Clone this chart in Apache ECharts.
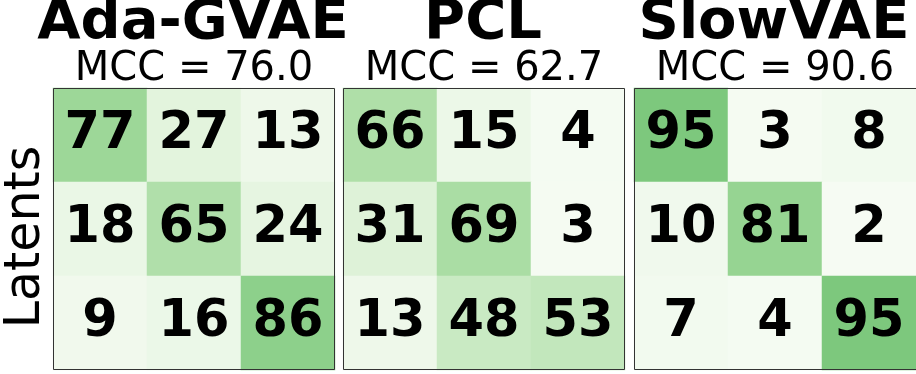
<!DOCTYPE html>
<html>
<head>
<meta charset="utf-8">
<script src="https://cdn.jsdelivr.net/npm/echarts@6/dist/echarts.min.js"></script>
<style>
  html, body { margin: 0; padding: 0; background: #fff; }
  #chart { width: 916px; height: 374px; }
</style>
</head>
<body>
<div id="chart"></div>
<script>
// ---- data ----
const methods = ['Ada-GVAE', 'PCL', 'SlowVAE'];
const mccScores = ['76.0', '62.7', '90.6'];
const axisCats = ['0', '1', '2'];
const adaGvae = [
  [77, 27, 13],
  [18, 65, 24],
  [9, 16, 86]
];
const pcl = [
  [66, 15, 4],
  [31, 69, 3],
  [13, 48, 53]
];
const slowVae = [
  [95, 3, 8],
  [10, 81, 2],
  [7, 4, 95]
];
const matrices = [adaGvae, pcl, slowVae];
const yLabel = 'Latents';

// ---- layout ----
const gridLefts = [53, 343, 634];
const gridTop = 88;
const gridSize = 282;
const FONT = '"DejaVu Sans", sans-serif';

const chart = echarts.init(document.getElementById('chart'), null, { renderer: 'canvas' });

const grids = [], xAxes = [], yAxes = [], series = [], graphics = [];
matrices.forEach((m, i) => {
  grids.push({ left: gridLefts[i], top: gridTop, width: gridSize, height: gridSize, containLabel: false });
  xAxes.push({ type: 'category', gridIndex: i, data: axisCats, show: false, splitArea: { show: false } });
  yAxes.push({ type: 'category', gridIndex: i, data: axisCats, show: false, inverse: true });
  const data = [];
  m.forEach((row, r) => row.forEach((v, c) => data.push([c, r, v])));
  series.push({
    type: 'heatmap',
    xAxisIndex: i,
    yAxisIndex: i,
    data: data,
    itemStyle: { borderWidth: 0 },
    label: {
      show: true,
      color: '#000',
      fontFamily: FONT,
      fontWeight: 'bold',
      fontSize: 51
    },
    emphasis: { disabled: true }
  });
  const cx = gridLefts[i] + gridSize / 2;
  graphics.push({
    type: 'text', z: 10,
    style: { text: methods[i], x: cx - 1, y: 23, align: 'center', verticalAlign: 'middle',
      font: 'bold 56px ' + FONT, fill: '#000' }
  });
  graphics.push({
    type: 'text', z: 10,
    style: { text: 'MCC = ' + mccScores[i], x: cx, y: 70, align: 'center', verticalAlign: 'middle',
      font: '40px ' + FONT, fill: '#000' }
  });
  const w = i === 2 ? gridSize + 1 : gridSize - 1;
  graphics.push({
    type: 'rect', z: 20, silent: true,
    shape: { x: gridLefts[i] + 0.5, y: gridTop + 0.5, width: w, height: gridSize - 1 },
    style: { fill: 'none', stroke: '#333', lineWidth: 1 }
  });
});

graphics.push({
  type: 'text', z: 10,
  x: 26, y: 237, rotation: Math.PI / 2,
  style: { text: yLabel, x: 0, y: 0, align: 'center', verticalAlign: 'middle',
    font: '49px ' + FONT, fill: '#000' }
});

chart.setOption({
  animation: false,
  backgroundColor: '#fff',
  grid: grids,
  xAxis: xAxes,
  yAxis: yAxes,
  visualMap: {
    type: 'continuous',
    show: false,
    min: 0,
    max: 100,
    seriesIndex: [0, 1, 2],
    inRange: { color: ['#f7fcf5', '#e5f5e0', '#c7e9c0', '#a1d99b', '#74c476'] }
  },
  series: series,
  graphic: graphics
});
</script>
</body>
</html>
